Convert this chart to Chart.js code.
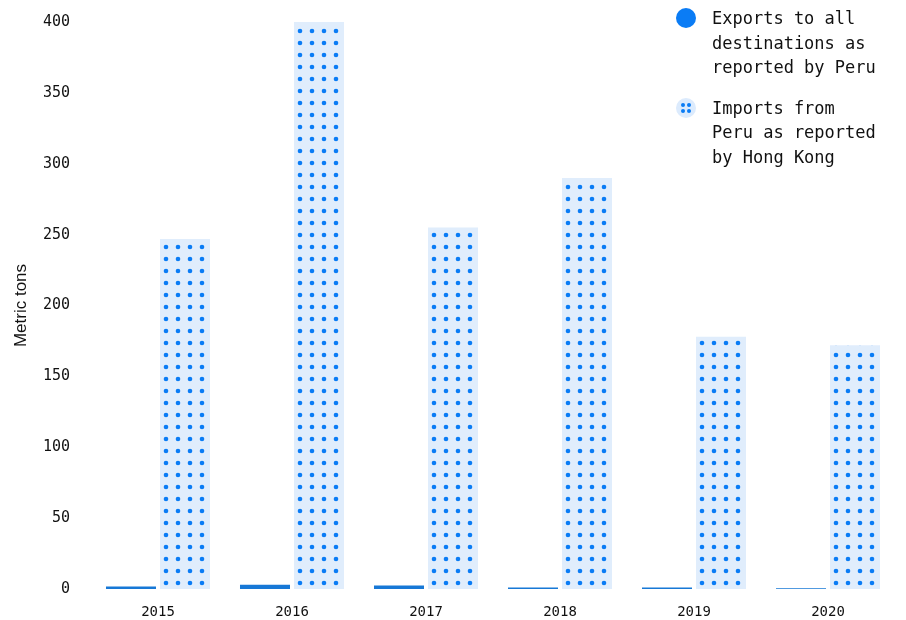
<!DOCTYPE html>
<html lang="en">
<head>
    <meta charset="UTF-8">
    <title>Peru exports vs Hong Kong imports</title>
    <script src="https://cdn.jsdelivr.net/npm/chart.js"></script>
    <style>
        body { margin:0; background:#fff; font-family:'DejaVu Sans Mono', monospace; }
        .wrap { position:relative; width:906px; height:620px; }
        .legend { position:absolute; left:676px; top:6px; width:230px; color:#111; font-size:17px; line-height:24.5px; }
        .legend .item { position:relative; padding-left:36px; margin-bottom:16px; }
        .legend .dot { position:absolute; left:0; top:2px; width:20px; height:20px; border-radius:50%; }
        .legend .solid { background:#0a7cf5; }
        .legend .pat { background:#dcebfd; }
        .legend .pat i { position:absolute; width:4px; height:4px; border-radius:50%; background:#0a7cf5; }
    </style>
</head>
<body>
<div class="wrap">
    <canvas id="c" width="906" height="620"></canvas>
    <div class="legend">
        <div class="item"><span class="dot solid"></span>Exports to all<br>destinations as<br>reported by Peru</div>
        <div class="item"><span class="dot pat"><i style="left:5px;top:5px"></i><i style="left:11px;top:5px"></i><i style="left:5px;top:11px"></i><i style="left:11px;top:11px"></i></span>Imports from<br>Peru as reported<br>by Hong Kong</div>
    </div>
</div>
<script>
const years = ['2015', '2016', '2017', '2018', '2019', '2020'];
const exportsPeru = [1.8, 3, 2.5, 1, 1, 0.6];
const importsHK = [247, 400, 255, 290, 178, 172];
const yTicks = [0, 50, 100, 150, 200, 250, 300, 350, 400];

const tile = document.createElement('canvas');
tile.width = 12; tile.height = 12;
(function () {
    const g = tile.getContext('2d');
    g.fillStyle = '#e0edfc';
    g.fillRect(0, 0, 12, 12);
    g.fillStyle = '#0a7cf5';
    g.beginPath();
    g.arc(6, 6, 2.3, 0, Math.PI * 2);
    g.fill();
})();

// dotted fill, lined up with each bar's left and bottom edge
function dotsFor(ctx) {
    const chart = ctx.chart;
    const x = chart.scales.x, y = chart.scales.y;
    const pat = chart.ctx.createPattern(tile, 'repeat');
    if (!x || !y || ctx.dataIndex === undefined) return pat;
    const left = x.getPixelForValue(ctx.dataIndex) + 2;
    const bottom = y.getPixelForValue(0);
    pat.setTransform(new DOMMatrix().translate(left, bottom % 12));
    return pat;
}

const mono = { family: "'DejaVu Sans Mono', monospace", size: 14 };

new Chart(document.getElementById('c'), {
    type: 'bar',
    data: {
        labels: years,
        datasets: [
            { label: 'Exports to all destinations as reported by Peru', data: exportsPeru, backgroundColor: '#1778d6', barPercentage: 0.926, categoryPercentage: 0.806 },
            { label: 'Imports from Peru as reported by Hong Kong', data: importsHK, backgroundColor: dotsFor, barPercentage: 0.926, categoryPercentage: 0.806 }
        ]
    },
    options: {
        responsive: false,
        animation: false,
        layout: { padding: { top: 10, right: 11 } },
        plugins: { legend: { display: false }, tooltip: { enabled: false } },
        scales: {
            x: {
                grid: { display: false },
                border: { display: false },
                ticks: { color: '#111', font: mono, padding: 7 },
                afterFit: s => { s.height = 31; }
            },
            y: {
                min: 0, max: 400,
                grid: { display: false },
                border: { display: false },
                afterBuildTicks: s => { s.ticks = yTicks.map(v => ({ value: v })); },
                ticks: { color: '#111', font: { family: "'DejaVu Sans Mono', monospace", size: 15 }, padding: 13 },
                title: { display: true, text: 'Metric tons', color: '#111', font: { family: "'Liberation Sans', Arial, sans-serif", size: 17 }, padding: { top: 11, bottom: 0 } },
                afterFit: s => { s.width = 91; }
            }
        }
    }
});
</script>
</body>
</html>
